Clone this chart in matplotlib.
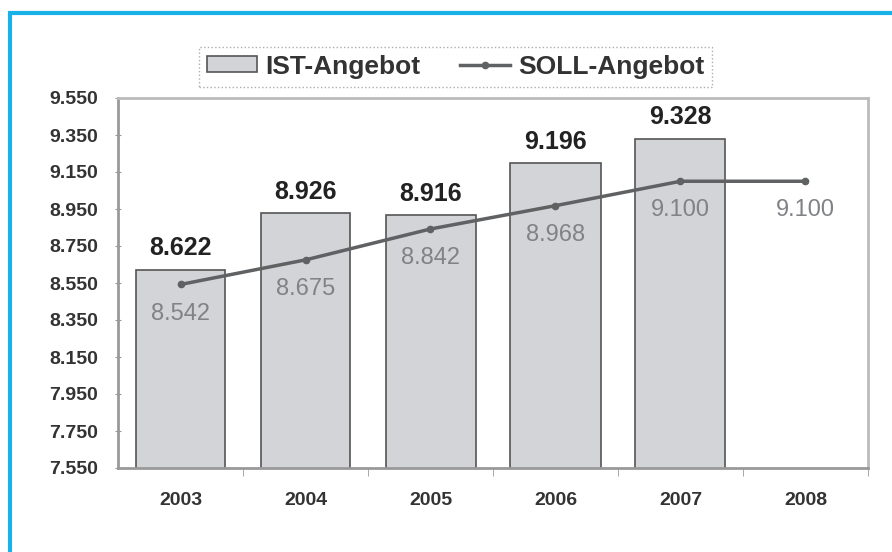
import numpy as np
import matplotlib
matplotlib.use("Agg")
import matplotlib.pyplot as plt
from matplotlib.patches import Rectangle

plt.rcParams["font.family"] = ["Liberation Sans", "DejaVu Sans"]

years = ["2003", "2004", "2005", "2006", "2007", "2008"]
ist = [8622, 8926, 8916, 9196, 9328]
soll = [8542, 8675, 8842, 8968, 9100, 9100]
yticks = [7550, 7750, 7950, 8150, 8350, 8550, 8750, 8950, 9150, 9350, 9550]


def de(v):
    return f"{v:,}".replace(",", ".")


fig = plt.figure(figsize=(8.92, 5.52), dpi=100)
fig.patches.append(Rectangle((10 / 892, -0.1), 1.2, 1 - 13 / 552 + 0.1,
                             transform=fig.transFigure, fill=False,
                             ec="#19b2e8", lw=3, zorder=10))
ax = fig.add_axes([118 / 892, 84 / 552, 750 / 892, 370 / 552])

x = np.arange(len(years))
b = ax.bar(x[:len(ist)], ist, width=0.72, color="#d2d4d7",
           edgecolor="#555555", lw=1.2, label="IST-Angebot", zorder=2)
ln, = ax.plot(x, soll, "-o", color="#5f6163", lw=2.5, ms=4.5, label="SOLL-Angebot", zorder=3)

for xi, v in zip(x, ist):
    ax.annotate(de(v), (xi, v), xytext=(0, 7), textcoords="offset points",
                ha="center", va="bottom", fontsize=18, fontweight="bold", color="#222222")
for xi, v in zip(x, soll):
    ax.annotate(de(v), (xi, v), xytext=(0, -13), textcoords="offset points",
                ha="center", va="top", fontsize=17, color="#808285")

ax.set_ylim(7550, 9550)
ax.set_xlim(-0.5, len(years) - 0.5)
ax.set_yticks(yticks)
ax.set_yticklabels([de(v) for v in yticks], fontsize=14, fontweight="bold", color="#333333")
ax.set_xticks(x)
ax.set_xticklabels(years, fontsize=14, fontweight="bold", color="#333333")
ax.set_xticks(np.arange(len(years)) + 0.5, minor=True)
ax.tick_params(axis="x", which="major", length=0, pad=17)
ax.tick_params(axis="x", which="minor", length=6, color="#999999", direction="out")
ax.tick_params(axis="y", length=5, color="#999999", direction="inout", pad=12)
for s in ax.spines.values():
    s.set_color("#bbbbbb")
    s.set_linewidth(2)
ax.spines["left"].set_color("#999999")
ax.spines["bottom"].set_color("#999999")

leg = ax.legend([b, ln], ["IST-Angebot", "SOLL-Angebot"], loc="lower center",
                bbox_to_anchor=(0.45, 0.995), ncol=2, frameon=True,
                fancybox=False, prop={"size": 19, "weight": "bold"}, handlelength=1.9,
                handleheight=0.55, handletextpad=0.3, columnspacing=1.5, borderpad=0.3)
leg.get_frame().set_edgecolor("#999999")
leg.get_frame().set_linestyle(":")
for t in leg.get_texts():
    t.set_color("#333333")

fig.savefig("out.png", dpi=100)
